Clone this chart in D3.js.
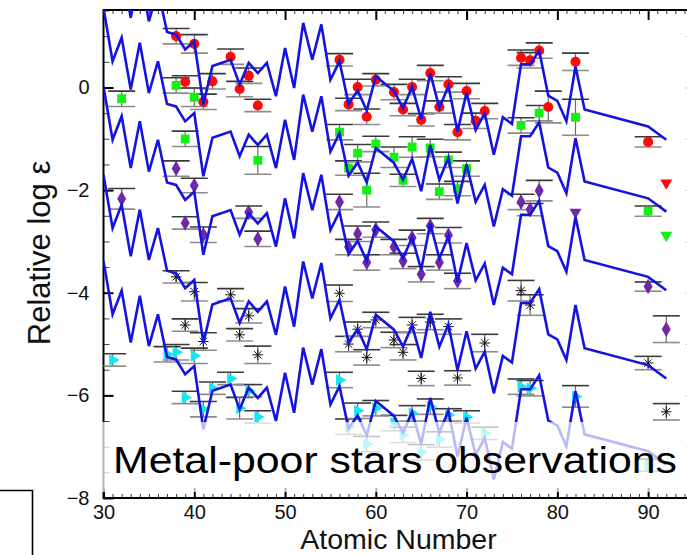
<!DOCTYPE html>
<html>
<head>
<meta charset="utf-8">
<script src="https://cdn.jsdelivr.net/npm/d3@7"></script>
<style>
  body { margin: 0; background: #fff; }
  svg { display: block; }
  text { font-family: "Liberation Sans", Arial, Helvetica, sans-serif; }
</style>
</head>
<body>
<svg id="vis" width="687" height="555"></svg>
<script>
// scaled solar r-process pattern (top curve), shifted down for each star
var modelZ = [30,31,32,33,34,35,36,37,38,39,40,41,42,44,45,46,47,48,49,50,51,52,53,54,55,56,57,58,59,60,62,63,64,65,66,67,68,69,70,71,72,73,74,75,76,77,78,79,80,81,82,83,90,92];
var modelLogE = [2.95,1.91,2.37,1.36,2.27,1.29,1.91,1.08,1.03,0.74,0.90,-0.33,0.42,0.54,0.06,0.48,0.28,0.48,-0.17,0.77,-0.01,1.26,0.54,1.23,0.15,0.51,-0.32,-0.06,-0.45,0.22,-0.07,-0.40,0.01,-0.62,0.28,-0.40,0.03,-0.86,-0.10,-0.83,-0.50,-1.31,-0.58,-0.71,0.45,0.45,0.72,-0.16,-0.26,-0.66,0.41,-0.43,-0.76,-1.02];
var modelShift = [0, -1.40, -2.93, -4.65, -6.33];

// star 1 (red circles)
var redZ = [38,39,40,41,42,44,45,46,47,56,57,58,59,60,62,63,64,65,66,67,68,69,70,71,72,76,77,78,79,82,90];
var redLogE = [1.00,0.11,0.85,-0.28,0.12,0.60,-0.03,0.23,-0.35,0.54,-0.33,0.01,-0.57,0.15,-0.09,-0.43,0.01,-0.63,0.28,-0.38,0.06,-0.87,-0.07,-0.65,-0.46,0.58,0.53,0.72,-0.38,0.50,-1.06];
var redErr = [0.15,0.12,0.18,0.15,0.15,0.15,0.15,0.15,0.12,0.12,0.12,0.15,0.15,0.12,0.15,0.12,0.15,0.12,0.15,0.12,0.15,0.15,0.15,0.15,0.15,0.15,0.15,0.15,0.31,0.17,0.10];

// star 2 (green squares)
var greenZ = [32,38,39,40,47,56,57,58,59,60,62,63,64,66,67,68,69,70,76,78,82,90];
var greenLogE = [-0.22,0.04,-1.00,-0.19,-1.42,-0.87,-1.57,-1.28,-2.00,-1.10,-1.36,-1.81,-1.16,-1.18,-2.03,-1.41,-1.97,-1.58,-0.74,-0.50,-0.58,-2.41];
var greenErr = [0.15,0.15,0.15,0.18,0.27,0.15,0.14,0.17,0.33,0.15,0.20,0.12,0.20,0.17,0.15,0.15,0.14,0.15,0.15,0.15,0.35,0.10];

// star 3 (purple diamonds)
var purpleZ = [32,38,39,40,41,46,47,56,57,58,59,60,62,63,64,65,66,67,68,69,76,77,78,90,92];
var purpleLogE = [-2.17,-1.58,-2.64,-1.91,-2.87,-2.43,-2.95,-2.23,-3.11,-2.85,-3.41,-2.77,-3.11,-3.38,-2.93,-3.64,-2.70,-3.41,-2.88,-3.77,-2.23,-2.38,-2.01,-3.88,-4.71];
var purpleErr = [0.20,0.15,0.12,0.14,0.15,0.12,0.15,0.15,0.15,0.15,0.15,0.15,0.15,0.15,0.15,0.15,0.15,0.15,0.15,0.15,0.15,0.12,0.20,0.09,0.26];

// star 4 (black asterisks)
var blackZ = [38,39,40,41,44,45,46,47,56,57,58,59,60,62,63,64,65,66,68,69,72,76,77,90,92];
var blackLogE = [-3.69,-4.63,-3.98,-4.95,-4.04,-4.82,-4.45,-5.21,-4.01,-5.00,-4.71,-5.26,-4.53,-4.92,-5.16,-4.63,-5.67,-4.57,-4.66,-5.66,-4.98,-3.96,-4.24,-5.37,-6.32];
var blackErr = [0.12,0.12,0.18,0.17,0.12,0.12,0.14,0.17,0.16,0.15,0.14,0.15,0.15,0.15,0.15,0.15,0.14,0.15,0.15,0.14,0.17,0.20,0.20,0.13,0.16];

// star 5 (cyan triangles)
var cyanZ = [31,37,38,39,40,41,42,44,45,46,47,56,57,58,59,60,62,63,64,65,66,67,68,70,72,76,77,82,90];
var cyanLogE = [-5.31,-5.20,-5.16,-6.04,-5.23,-6.27,-5.86,-5.67,-6.25,-5.91,-6.42,-5.70,-6.61,-6.30,-6.95,-6.25,-6.54,-6.77,-6.35,-7.11,-6.22,-6.86,-6.38,-6.42,-6.74,-5.83,-5.86,-6.02,-7.36];
var cyanErr = [0.12,0.15,0.15,0.12,0.15,0.15,0.12,0.12,0.21,0.12,0.12,0.15,0.15,0.15,0.15,0.15,0.15,0.15,0.15,0.15,0.15,0.15,0.12,0.12,0.12,0.15,0.15,0.21,0.12];

// upper limits
var limitStar = ["red", "green", "purple"];
var limitZ = [92, 92, 82];
var limitLogE = [-1.86, -2.88, -2.43];

// axes
var xTicks = [30, 40, 50, 60, 70, 80, 90];
var yTicks = [-8, -6, -4, -2, 0];
var xLabel = "Atomic Number";
var yLabel = "Relative log \u03b5";
var noteText = "Metal-poor stars observations";

// constant
var x0 = 103.5, x1 = 693.5, yTop = 10, yBot = 498;
var x = d3.scaleLinear().domain([30, 95]).range([x0, x1]);
var y = d3.scaleLinear().domain([-8, 1.51]).range([yBot, yTop]);

var colors = { red: "#ff0a0a", green: "#14f014", purple: "#6e2aa6", black: "#111", cyan: "#14e6f2" };

var vis = d3.select("#vis");

vis.append("defs").append("clipPath")
    .attr("id", "plot-clip")
    .append("rect")
    .attr("x", x0).attr("y", yTop)
    .attr("width", x1 - x0).attr("height", yBot - yTop);

// asterisk marker
var symAsterisk = {
    draw: function (ctx, size) {
        var r = Math.sqrt(size) / 2;
        var d = r * Math.SQRT1_2;
        ctx.moveTo(-r, 0); ctx.lineTo(r, 0);
        ctx.moveTo(0, -r); ctx.lineTo(0, r);
        ctx.moveTo(-d, -d); ctx.lineTo(d, d);
        ctx.moveTo(-d, d); ctx.lineTo(d, -d);
    }
};

var stars = [
    { key: "red", z: redZ, v: redLogE, e: redErr, sym: d3.symbolCircle, size: 80, rot: 0 },
    { key: "green", z: greenZ, v: greenLogE, e: greenErr, sym: d3.symbolSquare, size: 78, rot: 0 },
    { key: "purple", z: purpleZ, v: purpleLogE, e: purpleErr, sym: d3.symbolDiamond, size: 70, rot: 0 },
    { key: "black", z: blackZ, v: blackLogE, e: blackErr, sym: symAsterisk, size: 110, rot: 0 },
    { key: "cyan", z: cyanZ, v: cyanLogE, e: cyanErr, sym: d3.symbolTriangle, size: 62, rot: 90 }
];

// minor ticks
vis.append("g")
    .attr("transform", "translate(0," + yBot + ")")
    .call(d3.axisBottom(x).tickValues(d3.range(30, 96)).tickSize(-4).tickFormat(""))
    .call(function (g) { g.select(".domain").remove(); g.selectAll("line").attr("stroke", "#333"); });
vis.append("g")
    .attr("transform", "translate(0," + yTop + ")")
    .call(d3.axisTop(x).tickValues(d3.range(30, 96)).tickSize(-4).tickFormat(""))
    .call(function (g) { g.select(".domain").remove(); g.selectAll("line").attr("stroke", "#333"); });
vis.append("g")
    .attr("transform", "translate(" + x0 + ",0)")
    .call(d3.axisLeft(y).tickValues(d3.range(-8, 1.6, 0.5)).tickSize(-6).tickFormat(""))
    .call(function (g) { g.select(".domain").remove(); g.selectAll("line").attr("stroke", "#444"); });
vis.append("g")
    .attr("transform", "translate(" + x1 + ",0)")
    .call(d3.axisRight(y).tickValues(d3.range(-8, 1.6, 1)).tickSize(-7).tickFormat(""))
    .call(function (g) { g.select(".domain").remove(); g.selectAll("line").attr("stroke", "#888"); });

// major ticks + labels
var xAxis = vis.append("g")
    .attr("transform", "translate(0," + yBot + ")")
    .call(d3.axisBottom(x).tickValues(xTicks).tickSize(-10).tickPadding(7).tickSizeOuter(0));
var xAxisTop = vis.append("g")
    .attr("transform", "translate(0," + yTop + ")")
    .call(d3.axisTop(x).tickValues(xTicks).tickSize(-10).tickFormat("").tickSizeOuter(0));
var yAxis = vis.append("g")
    .attr("transform", "translate(" + x0 + ",0)")
    .call(d3.axisLeft(y).tickValues(yTicks).tickSize(-10).tickPadding(14).tickSizeOuter(0));
[xAxis, xAxisTop, yAxis].forEach(function (g) {
    g.select(".domain").remove();
    g.selectAll("line").attr("stroke", "#000").attr("stroke-width", 2);
    g.selectAll("text")
        .attr("fill", "#111")
        .style("font-size", "20px")
        .style("font-family", "'Liberation Sans', Arial, sans-serif");
});

// frame
vis.append("path")
    .attr("d", "M" + x1 + "," + yTop + "H" + x0 + "V" + yBot + "H" + x1)
    .attr("fill", "none")
    .attr("stroke", "#000")
    .attr("stroke-width", 2);

var plot = vis.append("g").attr("clip-path", "url(#plot-clip)");

// error bars
stars.forEach(function (s) {
    var g = plot.append("g").attr("class", "err-" + s.key);
    var idx = d3.range(s.z.length);
    g.selectAll("line.v").data(idx).enter().append("line")
        .attr("x1", function (i) { return x(s.z[i]); })
        .attr("x2", function (i) { return x(s.z[i]); })
        .attr("y1", function (i) { return y(s.v[i] + s.e[i]); })
        .attr("y2", function (i) { return y(s.v[i] - s.e[i]); })
        .attr("stroke", "#6a6a6a").attr("stroke-width", 1.2);
    g.selectAll("line.hi").data(idx).enter().append("line")
        .attr("x1", function (i) { return x(s.z[i]) - 13.5; })
        .attr("x2", function (i) { return x(s.z[i]) + 13.5; })
        .attr("y1", function (i) { return y(s.v[i] + s.e[i]); })
        .attr("y2", function (i) { return y(s.v[i] + s.e[i]); })
        .attr("stroke", "#3a3a3a").attr("stroke-width", 1.6);
    g.selectAll("line.lo").data(idx).enter().append("line")
        .attr("x1", function (i) { return x(s.z[i]) - 13.5; })
        .attr("x2", function (i) { return x(s.z[i]) + 13.5; })
        .attr("y1", function (i) { return y(s.v[i] - s.e[i]); })
        .attr("y2", function (i) { return y(s.v[i] - s.e[i]); })
        .attr("stroke", "#8c8c8c").attr("stroke-width", 1.6);
});

// markers
stars.forEach(function (s) {
    var idx = d3.range(s.z.length);
    var sym = d3.symbol().type(s.sym).size(s.size);
    plot.append("g").selectAll("path").data(idx).enter().append("path")
        .attr("transform", function (i) {
            return "translate(" + x(s.z[i]) + "," + y(s.v[i]) + ") rotate(" + s.rot + ")";
        })
        .attr("d", sym)
        .attr("fill", s.key === "black" ? "none" : colors[s.key])
        .attr("stroke", s.key === "black" ? colors.black : "none")
        .attr("stroke-width", 1);
});

// upper limits
plot.append("g").selectAll("path").data(d3.range(limitZ.length)).enter().append("path")
    .attr("transform", function (i) {
        return "translate(" + x(limitZ[i]) + "," + y(limitLogE[i]) + ") rotate(180)";
    })
    .attr("d", d3.symbol().type(d3.symbolTriangle).size(62))
    .attr("fill", function (i) { return colors[limitStar[i]]; });

// model curves
var line = d3.line()
    .x(function (i) { return x(modelZ[i]); });
modelShift.forEach(function (shift) {
    plot.append("path")
        .datum(d3.range(modelZ.length))
        .attr("fill", "none")
        .attr("stroke", "#1414e0")
        .attr("stroke-width", 2.6)
        .attr("stroke-linejoin", "miter")
        .attr("d", line.y(function (i) { return y(modelLogE[i] + shift); }));
});

// white veil behind the note
vis.append("rect")
    .attr("x", x0 - 2).attr("y", 422)
    .attr("width", 687 - x0 + 2).attr("height", 70)
    .attr("fill", "#fff").attr("fill-opacity", 0.7);

vis.append("text")
    .attr("x", 113)
    .attr("y", 473)
    .attr("textLength", 564)
    .attr("lengthAdjust", "spacingAndGlyphs")
    .style("font-size", "37px")
    .attr("fill", "#000")
    .text(noteText);

// axis titles
vis.append("text")
    .attr("x", (x0 + x1) / 2)
    .attr("y", 548.5)
    .attr("text-anchor", "middle")
    .style("font-size", "28.5px")
    .attr("fill", "#111")
    .text(xLabel);
vis.append("text")
    .attr("transform", "translate(50,253) rotate(-90)")
    .attr("text-anchor", "middle")
    .style("font-size", "31px")
    .attr("fill", "#111")
    .text(yLabel);

// corner of a box at bottom left
vis.append("path")
    .attr("d", "M0,490.5H32.5V555")
    .attr("fill", "none")
    .attr("stroke", "#000")
    .attr("stroke-width", 1.6);
</script>
</body>
</html>
